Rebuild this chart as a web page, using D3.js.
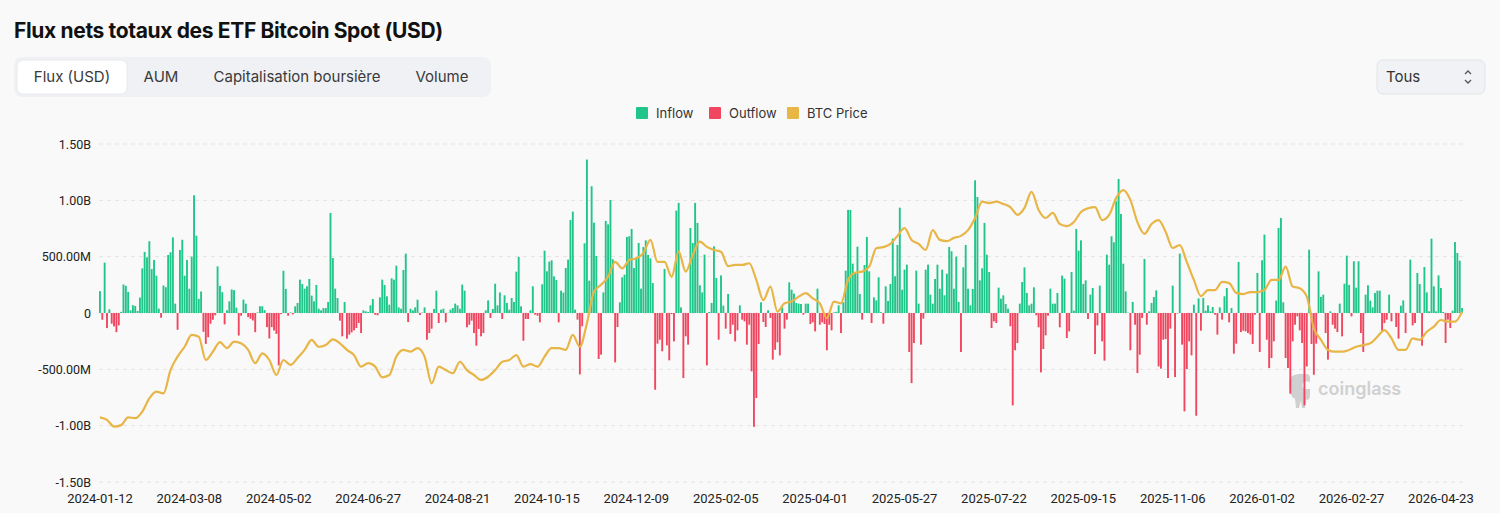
<!DOCTYPE html>
<html lang="fr">
    <head>
        <meta charset="utf-8">
        <title>Flux nets totaux des ETF Bitcoin Spot (USD)</title>
        <script src="https://d3js.org/d3.v7.min.js"></script>
        <style type="text/css">
            body { margin: 0; background: #f9f9f9; }
            svg { display: block; }
            .tick text { font-family: Roboto, "DejaVu Sans", sans-serif; fill: #222; }
        </style>
    </head>
    <body>
        <script type="text/javascript">

        // Constants
        const w = 1500;
        const h = 513;
        const plot = {left: 99, right: 1463, top: 144, bottom: 482};

        // Data (flows in millions USD, one per trading day from 2024-01-12)
        const flows = [
            194, -60, 447, -134, 33, -95, -119, -170, -110, 10,
            253, 241, 188, 24, 69, 63, 18, 137, 396, 542,
            494, 637, 390, 471, 331, 39, -42, 244, 229, 515,
            539, 671, 83, -149, 560, 650, 331, 471, 215, 501,
            1045, 686, 125, 191, -167, -274, -215, -95, -60, -20,
            414, 241, 185, -101, 24, 104, 209, 203, 48, -200,
            -24, 119, 83, -36, -51, -66, -170, 5, 60, 60,
            25, -125, -226, -125, -155, -185, -465, -10, 375, 214,
            -24, 5, -12, 59, 89, 296, 258, 216, 237, 302,
            154, 104, 249, 38, 24, 44, 44, 98, 888, 488,
            216, 133, -68, -207, 98, -228, -192, -172, -154, -133,
            -89, -178, 24, 15, 9, 68, 124, -15, -20, 139,
            296, 249, 148, 74, 308, 296, 420, 50, 38, 382,
            527, -80, 38, 24, 50, 118, -18, 3, 50, -237,
            -178, -139, 36, 198, -89, 30, 38, -83, 2, 30,
            44, 83, 68, 38, 252, 198, -127, -104, -68, -178,
            -290, -142, -207, -178, 24, 112, -44, 36, 260, 68,
            183, -53, 157, 89, 30, 133, 98, 367, 497, 59,
            -246, -53, -53, 24, 237, -15, -24, -83, 255, 553,
            370, 456, 468, 326, 293, -83, 198, 181, 400, 474,
            826, 900, 30, -59, -545, -118, 619, 1362, 287, 1125,
            802, 506, -408, -370, 183, 817, 787, 1003, 477, -438,
            -124, 95, 317, 340, 675, 681, 746, 400, 480, 622,
            216, 586, 645, 515, 485, 266, -681, -272, -237, -340,
            391, -287, -420, -10, -252, 909, 977, 50, -577, -207,
            -281, 755, 622, 977, 799, 246, 183, 518, -465, 9,
            89, 592, 311, -237, 334, 65, -139, 169, -186, -104,
            -252, -154, 68, -59, -74, -281, -104, -518, -1010, -755,
            -275, 95, -80, -124, 24, -44, -414, -326, -260, -376,
            50, -139, -59, 272, 207, 172, 89, 83, 80, -15,
            83, 83, -98, -83, -163, 216, -104, -83, -98, -331,
            -104, -154, 5, 10, 68, -178, 95, 376, 915, 915,
            438, 361, 589, 169, -59, 426, 675, 370, -89, 139,
            112, 317, 8, -95, 237, 107, 258, 660, 326, 604,
            935, 207, 385, 429, -346, -622, -266, 376, 83, -281,
            -50, 385, 429, 163, 83, 302, 429, 216, 385, 157,
            349, 586, 548, 216, 500, 98, -346, 405, 604, 216,
            68, 213, 1178, 1030, 290, 397, 799, 518, 364, -133,
            -74, -89, 225, 127, 157, 80, 38, -118, -820, -331,
            -266, 83, 275, 405, 178, 68, 83, 228, -20, -127,
            -527, -320, -198, -24, 216, 83, 83, 178, -127, 332,
            305, -222, -163, 364, 21, 746, 553, 645, 258, 290,
            -53, 163, 222, -364, -110, 243, -252, -423, 518, 429,
            681, 628, 992, 1190, 879, 438, 192, 3, -331, 98,
            -104, -533, -370, -44, 480, -104, 15, 89, 142, 201,
            -474, -494, -237, -231, -577, -139, 243, -568, -5, 527,
            -281, -873, -497, -252, -376, 74, -912, 130, -157, 133,
            21, 68, 15, 53, -15, -192, 50, -59, 148, 222,
            -83, 44, -361, -272, 453, -169, -157, -163, -178, -192,
            -275, -15, 355, -346, 468, 696, -237, -488, -400, -252,
            110, 755, 844, 95, -400, -488, -716, -252, -104, -30,
            -154, -266, -820, -474, 562, -275, -548, -272, 370, 142,
            163, -178, -414, 15, -104, -139, -169, 83, -207, 260,
            509, 249, -30, 459, 225, 459, -178, -346, 163, 246,
            110, 50, 178, 198, 198, -163, -89, -59, 163, -74,
            0, -124, -228, 65, 112, -178, 0, 474, -110, -89,
            355, 258, -290, 408, 183, 15, 660, 237, 15, 334,
            222, 9, -266, -59, -133, 21, 630, 533, 465, 44
        ];

        // BTC price (USD), every third trading day
        const btcPrice = [
            46100, 45200, 42900, 43400, 46100, 45800, 48100, 52700, 55000, 54400,
            62500, 67200, 70600, 74700, 74100, 66000, 68900, 72200, 70100, 72400,
            71800, 69500, 64900, 68300, 66000, 60800, 66000, 64300, 66700,
            69500, 73000, 70600, 71200, 73200, 71800, 69500, 67700, 63700, 64900,
            63700, 60000, 60800, 67200, 69500, 68900, 70100, 67200, 57900, 63700,
            62500, 61400, 65400, 62500, 60800, 59100, 60200,
            62500, 65400, 66000, 67700, 63700, 64600, 63700, 67200, 70100, 70100,
            69500, 74700, 70600, 78800, 89700, 92100, 94900, 100100, 97800, 100700,
            101300, 103100, 107700, 100100, 100100, 94900, 103600,
            96700, 102500, 107100, 105300, 104200, 103600, 98600, 99000, 99000, 99600,
            93800, 86800, 91500, 82800, 85700, 86300, 88000, 89200, 87400, 85700,
            80500, 86300, 85700, 93800, 96300, 96700, 98400, 104800,
            105200, 106300, 109100, 111800, 107700, 106300, 104200, 111100, 107700, 107300,
            108400, 109100, 111100, 115300, 121000, 120500, 121000, 120200, 119100, 116400,
            118800, 124400, 118100, 115300, 117100, 113200, 112500, 113900,
            117400, 118700, 119100, 114600, 116400, 122300, 125000, 121600, 113900, 109800,
            113200, 114600, 110500, 104900, 105900, 100000, 93800, 88200, 90300, 90300,
            93100, 92700, 89300, 88900, 89600, 89600, 90300, 93800,
            93800, 98400, 91500, 90900, 88000, 77000, 73000, 69500, 68900, 68900,
            69500, 70600, 71200, 71800, 74100, 76400, 73500, 69500, 69500, 73500,
            73000, 75800, 77600, 79900, 79300, 79300, 82800
        ];
        const priceStep = 3;

        // US market holidays (no trading)
        const holidays = [
            "2024-01-15", "2024-02-19", "2024-03-29", "2024-05-27", "2024-06-19", "2024-07-04",
            "2024-09-02", "2024-11-28", "2024-12-25",
            "2025-01-01", "2025-01-09", "2025-01-20", "2025-02-17", "2025-04-18", "2025-05-26",
            "2025-06-19", "2025-07-04", "2025-09-01", "2025-11-27", "2025-12-25",
            "2026-01-01", "2026-01-19", "2026-02-16", "2026-04-03"
        ];
        const firstDay = "2024-01-12";

        const xTickLabels = [
            "2024-01-12", "2024-03-08", "2024-05-02", "2024-06-27", "2024-08-21", "2024-10-15",
            "2024-12-09", "2025-02-05", "2025-04-01", "2025-05-27", "2025-07-22", "2025-09-15",
            "2025-11-06", "2026-01-02", "2026-02-27", "2026-04-23"
        ];
        const yTicks = [-1500, -1000, -500, 0, 500, 1000, 1500];
        const yTickLabels = ["-1.50B", "-1.00B", "-500.00M", "0", "500.00M", "1.00B", "1.50B"];

        const tabs = ["Flux (USD)", "AUM", "Capitalisation boursière", "Volume"];
        const legendItems = [
            {name: "Inflow", color: "#20c58a"},
            {name: "Outflow", color: "#f0465f"},
            {name: "BTC Price", color: "#e8b547"}
        ];

        // trading days
        const dates = [];
        let day = new Date(firstDay + "T00:00:00Z");
        while (dates.length < flows.length) {
            const s = day.toISOString().slice(0, 10);
            const wd = day.getUTCDay();
            if (wd !== 0 && wd !== 6 && !holidays.includes(s)) dates.push(s);
            day.setUTCDate(day.getUTCDate() + 1);
        }
        const flowData = flows.map((v, i) => ({date: dates[i], value: v}));
        const priceData = btcPrice.map((p, k) => ({date: dates[k * priceStep], price: p}));

        // SVG
        const svg = d3.select("body")
                      .append("svg")
                      .attr("width", w)
                      .attr("height", h);

        svg.append("rect")
           .attr("width", w).attr("height", h)
           .attr("fill", "#f9f9f9");

        // Title
        svg.append("text")
           .attr("x", 14)
           .attr("y", 38)
           .attr("font-family", "Inter, 'Liberation Sans', sans-serif")
           .attr("font-weight", 700)
           .attr("font-size", "21px")
           .attr("letter-spacing", "-0.35px")
           .attr("fill", "#111")
           .text("Flux nets totaux des ETF Bitcoin Spot (USD)");

        // Tabs
        svg.append("rect")
           .attr("x", 14).attr("y", 57)
           .attr("width", 477).attr("height", 40)
           .attr("rx", 8)
           .attr("fill", "#eff1f4");
        svg.append("rect")
           .attr("x", 17).attr("y", 60)
           .attr("width", 110).attr("height", 34)
           .attr("rx", 6)
           .attr("fill", "#ffffff")
           .attr("stroke", "#e9eaec");
        const tabX = [72, 161, 297, 442];
        svg.selectAll(".tab")
           .data(tabs)
           .enter()
           .append("text")
           .attr("class", "tab")
           .attr("x", (d, i) => tabX[i])
           .attr("y", 82)
           .attr("text-anchor", "middle")
           .attr("font-family", "Inter, 'Noto Sans', sans-serif")
           .attr("font-size", "15px")
           .attr("fill", "#3a3a3a")
           .text(d => d);

        // Dropdown
        svg.append("rect")
           .attr("x", 1377).attr("y", 60)
           .attr("width", 108).attr("height", 34)
           .attr("rx", 6)
           .attr("fill", "#f1f2f5")
           .attr("stroke", "#e2e4e8");
        svg.append("text")
           .attr("x", 1386).attr("y", 82)
           .attr("font-family", "Inter, 'Noto Sans', sans-serif")
           .attr("font-size", "15px")
           .attr("fill", "#333")
           .text("Tous");
        svg.append("path")
           .attr("d", "M1465,74 l3,-3 l3,3 M1465,80 l3,3 l3,-3")
           .attr("fill", "none")
           .attr("stroke", "#555")
           .attr("stroke-width", 1.3);

        // Legend
        const legendX = [636, 709, 787];
        const legend = svg.selectAll(".legend")
                          .data(legendItems)
                          .enter()
                          .append("g")
                          .attr("class", "legend")
                          .attr("transform", (d, i) => "translate(" + legendX[i] + ",107)");
        legend.append("rect")
              .attr("width", 12).attr("height", 12)
              .attr("rx", 1)
              .attr("fill", d => d.color);
        legend.append("text")
              .attr("x", 20).attr("y", 10.5)
              .attr("font-family", "Inter, 'Noto Sans', sans-serif")
              .attr("font-size", "13px")
              .attr("fill", "#333")
              .text(d => d.name);

        // Scales
        const xScale = d3.scaleBand()
                         .domain(dates)
                         .range([plot.left, plot.right])
                         .paddingInner(0.2);
        const yScale = d3.scaleLinear()
                         .domain([-1500, 1500])
                         .range([plot.bottom, plot.top]);
        const priceScale = d3.scaleLinear()
                             .domain([23650, 141000])
                             .range([plot.bottom, plot.top]);

        // Grid
        svg.append("g")
           .selectAll("line")
           .data(yTicks)
           .enter()
           .append("line")
           .attr("x1", plot.left).attr("x2", plot.right)
           .attr("y1", d => yScale(d)).attr("y2", d => yScale(d))
           .attr("stroke", "#e3e3e3")
           .attr("stroke-dasharray", "4,4");

        // Left Axis
        const leftAxis = d3.axisLeft(yScale)
                           .tickValues(yTicks)
                           .tickFormat((d, i) => yTickLabels[i])
                           .tickSize(0)
                           .tickPadding(8);
        svg.append("g")
           .attr("transform", "translate(" + plot.left + ",0)")
           .call(leftAxis)
           .call(g => g.select(".domain").remove())
           .selectAll("text")
           .attr("font-size", "12.5px");

        // Bottom Axis
        const bottomAxis = d3.axisBottom(xScale)
                             .tickValues(xTickLabels.filter(d => dates.includes(d)))
                             .tickSize(0)
                             .tickPadding(12);
        svg.append("g")
           .attr("transform", "translate(0," + plot.bottom + ")")
           .call(bottomAxis)
           .call(g => g.select(".domain").remove())
           .selectAll("text")
           .attr("font-size", "13px");

        // Watermark
        const wm = svg.append("g").attr("opacity", 0.5);
        wm.append("path")
          .attr("d", "M1289,384 q0,-10 10,-10 l7,0 q4,0 4,4 l0,4 q-5,-2 -7,1 q-2,4 2,6 l5,0 l0,7 q0,4 -4,4 l-1,8 l-3,0 l-1,-8 l-2,8 l-3,0 l-1,-9 q-6,-3 -6,-15 z")
          .attr("fill", "#a9a9a9");
        wm.append("text")
          .attr("x", 1318).attr("y", 395)
          .attr("font-family", "Inter, 'Noto Sans', sans-serif")
          .attr("font-weight", 600)
          .attr("font-size", "18px")
          .attr("fill", "#a9a9a9")
          .text("coinglass");

        // Bars
        svg.append("g")
           .selectAll("rect")
           .data(flowData.filter(d => d.value !== 0))
           .enter()
           .append("rect")
           .attr("x", d => xScale(d.date))
           .attr("width", xScale.bandwidth())
           .attr("y", d => yScale(Math.max(0, d.value)))
           .attr("height", d => Math.abs(yScale(d.value) - yScale(0)))
           .attr("fill", d => d.value > 0 ? legendItems[0].color : legendItems[1].color);

        // BTC price line
        const line = d3.line()
                       .x(d => xScale(d.date) + xScale.bandwidth() / 2)
                       .y(d => priceScale(d.price))
                       .curve(d3.curveMonotoneX);
        svg.append("path")
           .datum(priceData)
           .attr("d", line)
           .attr("fill", "none")
           .attr("stroke", legendItems[2].color)
           .attr("stroke-width", 2.2)
           .attr("stroke-linejoin", "round");

        </script>
    </body>
</html>
